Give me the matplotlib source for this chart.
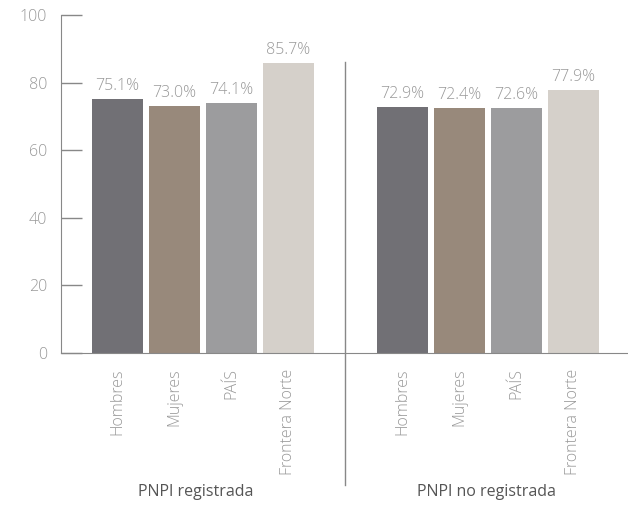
import numpy as np
import matplotlib
matplotlib.use('Agg')
import matplotlib.pyplot as plt

plt.rcParams['font.family'] = ['Open Sans', 'DejaVu Sans']

categorias = ['Hombres', 'Mujeres', 'PAÍS', 'Frontera Norte']
grupos = ['PNPI registrada', 'PNPI no registrada']
registrada = [75.1, 73.0, 74.1, 85.7]
no_registrada = [72.9, 72.4, 72.6, 77.9]
colores = ['#717075', '#98897b', '#9c9c9e', '#d5d0ca']

fig = plt.figure(figsize=(6.28, 5.05), dpi=100)
ax = fig.add_axes([0.097, 0.301, 0.903, 0.669])

x1 = np.arange(4)
x2 = np.arange(4) + 5
gris = '#999999'
for xs, vals in [(x1, registrada), (x2, no_registrada)]:
    ax.bar(xs, vals, width=0.895, color=colores)
    for x, v in zip(xs, vals):
        ax.text(x, v + 1.5, '%.1f%%' % v, ha='center', va='bottom',
                fontsize=11.5, color=gris, fontweight='light')

ax.set_xlim(-0.99, 8.96)
ax.set_ylim(0, 100)
ax.set_yticks([0, 20, 40, 60, 80, 100])
ax.tick_params(axis='y', direction='in', length=15, width=1, color='#888888',
               labelsize=11.5, labelcolor=gris, pad=10)
for lbl in ax.get_yticklabels():
    lbl.set_fontweight('light')
ax.set_xticks(list(x1) + list(x2))
ax.set_xticklabels(categorias * 2, rotation=90, fontsize=11.5, color=gris,
                   fontweight='light')
ax.tick_params(axis='x', length=0, pad=11)

for s in ['top', 'right']:
    ax.spines[s].set_visible(False)
ax.spines['left'].set_color('#888888')
ax.spines['bottom'].set_color('#888888')

ax.axvline(4, ymin=-0.39, ymax=0.861, color='#888888', lw=1, clip_on=False)

# etiquetas de grupo
ax.text(1.37, -0.412, grupos[0], transform=ax.get_xaxis_transform(),
        ha='center', va='center', fontsize=11.5, color='#555555')
ax.text(6.48, -0.412, grupos[1], transform=ax.get_xaxis_transform(),
        ha='center', va='center', fontsize=11.5, color='#555555')

fig.savefig('out.png', dpi=100)
